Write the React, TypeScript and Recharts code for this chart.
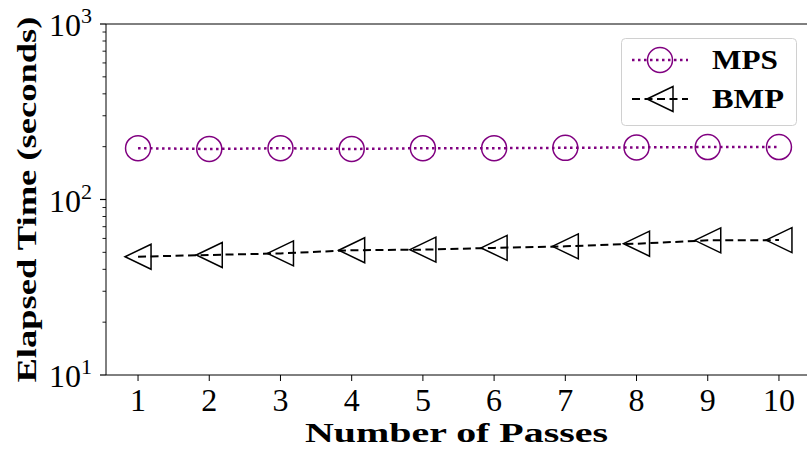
import React from 'react';
import { LineChart, Line, XAxis, YAxis, Legend, ReferenceLine } from 'recharts';

const PASSES = [1, 2, 3, 4, 5, 6, 7, 8, 9, 10];
const MPS = [196, 194, 196, 194, 196, 196, 197, 198, 199, 199];
const BMP = [47.2, 48.3, 49.3, 51.4, 51.8, 53.0, 54.1, 56.0, 58.5, 58.7];

const MAJOR_TICKS = [10, 100, 1000];
const MINOR_TICKS = [20, 30, 40, 50, 60, 70, 80, 90, 200, 300, 400, 500, 600, 700, 800, 900];

const SERIF = "'Liberation Serif', 'DejaVu Serif', serif";
const PURPLE = '#800080';

const data = PASSES.map((p, i) => ({ pass: p, mps: MPS[i], bmp: BMP[i] }));

const CircleDot = (props: any) => {
  const { cx, cy } = props;
  if (cx == null || cy == null) return null;
  return <circle cx={cx} cy={cy} r={12.5} fill="none" stroke={PURPLE} strokeWidth={1.5} />;
};

const TriangleDot = (props: any) => {
  const { cx, cy } = props;
  if (cx == null || cy == null) return null;
  const r = 13;
  return (
    <polygon
      points={`${cx - r},${cy} ${cx + r},${cy - r + 0.5} ${cx + r},${cy + r - 0.5}`}
      fill="none"
      stroke="#000"
      strokeWidth={1.5}
    />
  );
};

// log axis: majors get 10^n labels, minors only a short tick
const LogTick = (props: any) => {
  const { x, y, payload } = props;
  const v = payload.value;
  const major = MAJOR_TICKS.includes(v);
  const len = major ? 6 : 3.5;
  return (
    <g>
      <line x1={x - len} x2={x} y1={y} y2={y} stroke="#000" strokeWidth={major ? 1.2 : 0.9} />
      {major && (
        <text x={x - 14} y={y + 12} textAnchor="end" fontFamily={SERIF} fontSize={32} fill="#000">
          <tspan>10</tspan>
          <tspan dy={-12.7} fontSize={22}>{Math.round(Math.log10(v))}</tspan>
        </text>
      )}
    </g>
  );
};

const XLabel = (props: any) => {
  const { x, y, width } = props.viewBox;
  return (
    <text
      x={x + width / 2 - 2}
      y={y + 67}
      textAnchor="middle"
      fontFamily={SERIF}
      fontWeight="bold"
      fontSize={28}
      textLength={303}
      lengthAdjust="spacingAndGlyphs"
      fill="#000"
    >
      Number of Passes
    </text>
  );
};

const YLabel = (props: any) => {
  const { x, y, height } = props.viewBox;
  const bx = x + 30;
  const cy = y + height / 2;
  return (
    <text
      x={bx}
      y={cy}
      transform={`rotate(-90, ${bx}, ${cy})`}
      textAnchor="middle"
      fontFamily={SERIF}
      fontWeight="bold"
      fontSize={28}
      textLength={366}
      lengthAdjust="spacingAndGlyphs"
      fill="#000"
    >
      Elapsed Time (seconds)
    </text>
  );
};

const LegendBox = () => (
  <svg width={176} height={88} style={{ display: 'block' }}>
    <rect x={0.5} y={0.5} width={175} height={87} rx={4} fill="#fff" fillOpacity={0.8} stroke="#d0d0d0" />
    <line x1={11} x2={67} y1={22} y2={22} stroke={PURPLE} strokeWidth={2.5} strokeDasharray="2.5 3.5" />
    <CircleDot cx={39} cy={22} />
    <text x={91} y={31} fontFamily={SERIF} fontWeight="bold" fontSize={28} textLength={66} lengthAdjust="spacingAndGlyphs">
      MPS
    </text>
    <line x1={11} x2={67} y1={61} y2={61} stroke="#000" strokeWidth={2} strokeDasharray="8 4.5" />
    <TriangleDot cx={39} cy={61} />
    <text x={91} y={70} fontFamily={SERIF} fontWeight="bold" fontSize={28} textLength={72} lengthAdjust="spacingAndGlyphs">
      BMP
    </text>
  </svg>
);

export default function App() {
  return (
    <div style={{ position: 'fixed', left: 0, top: 0, width: 807, height: 450, overflow: 'hidden', background: '#fff' }}>
      <LineChart width={820} height={450} data={data} margin={{ top: 24, right: 9, left: 6, bottom: 0 }}>
        <XAxis
          type="number"
          dataKey="pass"
          domain={[0.55, 10.45]}
          ticks={PASSES}
          interval={0}
          allowDataOverflow
          height={75}
          stroke="#000"
          tickSize={6}
          tickMargin={7}
          tick={{ fontSize: 32, fill: '#000', fontFamily: SERIF }}
          label={<XLabel />}
        />
        <YAxis
          scale="log"
          domain={[10, 1000]}
          ticks={[...MAJOR_TICKS, ...MINOR_TICKS]}
          interval={0}
          allowDataOverflow
          width={100}
          stroke="#000"
          tickLine={false}
          tickSize={0}
          tickMargin={0}
          tick={<LogTick />}
          label={<YLabel />}
        />
        <ReferenceLine y={1000} stroke="#000" />
        <Line
          dataKey="mps"
          stroke={PURPLE}
          strokeWidth={2.5}
          strokeDasharray="2.5 3.5"
          dot={<CircleDot />}
          activeDot={false}
          isAnimationActive={false}
        />
        <Line
          dataKey="bmp"
          stroke="#000"
          strokeWidth={2}
          strokeDasharray="8 4.5"
          dot={<TriangleDot />}
          activeDot={false}
          isAnimationActive={false}
        />
        <Legend
          layout="vertical"
          align="center"
          verticalAlign="middle"
          wrapperStyle={{ left: 621, top: 38, width: 176, height: 88 }}
          content={<LegendBox />}
        />
      </LineChart>
    </div>
  );
}
